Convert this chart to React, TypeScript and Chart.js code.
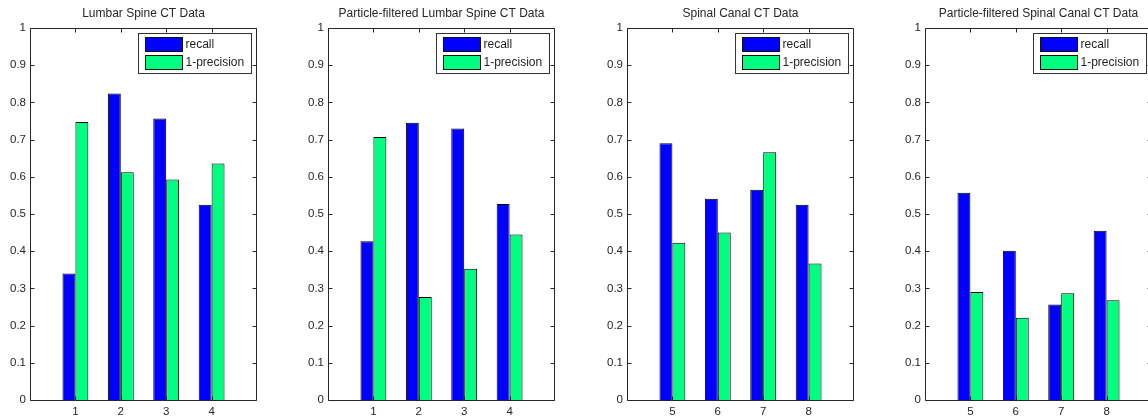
import React, { useEffect, useRef } from 'react';
import { Chart, registerables } from 'chart.js';

Chart.register(...registerables);

// ---- data ----
const lumbarCategories = ['1', '2', '3', '4'];
const spinalCategories = ['5', '6', '7', '8'];
const seriesNames = ['recall', '1-precision'];

const lumbarRecall = [0.340, 0.824, 0.757, 0.525];
const lumbarOneMinusPrecision = [0.747, 0.612, 0.593, 0.636];

const pfLumbarRecall = [0.427, 0.745, 0.730, 0.527];
const pfLumbarOneMinusPrecision = [0.707, 0.277, 0.353, 0.445];

const spinalRecall = [0.690, 0.541, 0.565, 0.525];
const spinalOneMinusPrecision = [0.423, 0.450, 0.666, 0.367];

const pfSpinalRecall = [0.557, 0.401, 0.257, 0.455];
const pfSpinalOneMinusPrecision = [0.290, 0.221, 0.287, 0.268];

const yTickValues = [0, 0.1, 0.2, 0.3, 0.4, 0.5, 0.6, 0.7, 0.8, 0.9, 1];
const yTickLabels = ['0', '0.1', '0.2', '0.3', '0.4', '0.5', '0.6', '0.7', '0.8', '0.9', '1'];

const panelTitles = [
  'Lumbar Spine CT Data',
  'Particle-filtered Lumbar Spine CT Data',
  'Spinal Canal CT Data',
  'Particle-filtered Spinal Canal CT Data',
];

// ---- style ----
const FONT = '"Liberation Sans", Arial, Helvetica, sans-serif';
const TEXT = '#262626';
const AXIS = '#262626';
const BLUE = '#0000ff';
const GREEN = '#00ff80';
const CANVAS_W = 299;
const CANVAS_H = 419;

const matlabPlugin = {
  id: 'matlabAxes',
  afterDraw(chart: any) {
    const { ctx, chartArea: a, scales } = chart;
    const title = chart.options.plugins.matlabAxes.title as string;
    const names = chart.data.datasets.map((d: any) => d.label);
    const colors = chart.data.datasets.map((d: any) => d.backgroundColor);
    const nLabels = chart.data.labels.length;
    ctx.save();
    const L = Math.round(a.left) + 0.5;
    const R = Math.round(a.right) - 0.5;
    const T = Math.round(a.top) + 0.5;
    const B = Math.round(a.bottom) + 0.5;
    ctx.strokeStyle = AXIS;
    ctx.lineWidth = 1;
    ctx.beginPath();
    ctx.rect(L, T, R - L, B - T);
    for (const v of yTickValues) {
      const y = Math.round(scales.y.getPixelForValue(v)) + 0.5;
      ctx.moveTo(L, y); ctx.lineTo(L + 4, y);
      ctx.moveTo(R, y); ctx.lineTo(R - 4, y);
    }
    for (let i = 1; i < nLabels - 1; i++) {
      const x = Math.round(scales.x.getPixelForValue(i)) + 0.5;
      ctx.moveTo(x, B); ctx.lineTo(x, B - 4);
      ctx.moveTo(x, T); ctx.lineTo(x, T + 4);
    }
    ctx.stroke();

    // title
    ctx.fillStyle = TEXT;
    ctx.font = `12px ${FONT}`;
    ctx.textAlign = 'center';
    ctx.textBaseline = 'middle';
    ctx.fillText(title, (a.left + a.right) / 2, 14);

    // legend
    ctx.font = `12px ${FONT}`;
    const maxText = Math.max(...names.map((n: string) => ctx.measureText(n).width));
    const boxW = Math.max(112, Math.round(48 + maxText + 6));
    const boxH = 40;
    const bx = Math.round(a.right) - 6 - boxW + 0.5;
    const by = Math.round(a.top) + 5 + 0.5;
    ctx.fillStyle = '#ffffff';
    ctx.fillRect(bx, by, boxW, boxH);
    ctx.strokeStyle = '#333333';
    ctx.strokeRect(bx, by, boxW, boxH);
    names.forEach((n: string, i: number) => {
      const sy = by + 4 + i * 18;
      ctx.fillStyle = colors[i];
      ctx.fillRect(bx + 7, sy, 37, 14);
      ctx.strokeStyle = '#111111';
      ctx.strokeRect(bx + 7, sy, 37, 14);
      ctx.fillStyle = TEXT;
      ctx.textAlign = 'left';
      ctx.textBaseline = 'middle';
      ctx.fillText(n, bx + 47, sy + 7.5);
    });
    ctx.restore();
  },
};

type PanelProps = {
  title: string;
  categories: string[];
  recall: number[];
  precision: number[];
  left: number;
};

function Panel({ title, categories, recall, precision, left }: PanelProps) {
  const ref = useRef<HTMLCanvasElement | null>(null);
  useEffect(() => {
    if (!ref.current) return;
    const lo = String(Number(categories[0]) - 1);
    const hi = String(Number(categories[categories.length - 1]) + 1);
    const labels = [lo, ...categories, hi];
    const pad = (arr: number[]) => [null, ...arr, null];
    const chart = new Chart(ref.current, {
      type: 'bar',
      data: {
        labels,
        datasets: [
          {
            label: seriesNames[0],
            data: pad(recall),
            backgroundColor: BLUE,
            borderColor: '#000000',
            borderWidth: 1,
            categoryPercentage: 0.57,
            barPercentage: 1,
          },
          {
            label: seriesNames[1],
            data: pad(precision),
            backgroundColor: GREEN,
            borderColor: '#000000',
            borderWidth: 1,
            categoryPercentage: 0.57,
            barPercentage: 1,
          },
        ],
      },
      options: {
        responsive: false,
        maintainAspectRatio: false,
        animation: false,
        devicePixelRatio: 1,
        layout: { padding: { top: 28, right: CANVAS_W - 257, bottom: 0, left: 0 } },
        plugins: {
          legend: { display: false },
          title: { display: false },
          tooltip: { enabled: false },
          matlabAxes: { title },
        } as any,
        scales: {
          x: {
            type: 'category',
            offset: false,
            grid: { display: false, drawTicks: false, tickLength: 0 },
            border: { display: false },
            ticks: {
              autoSkip: false,
              maxRotation: 0,
              minRotation: 0,
              padding: 5,
              color: TEXT,
              font: { family: FONT, size: 11.5 },
              callback: (_v: any, i: number) => (i === 0 || i === labels.length - 1 ? '' : labels[i]),
            },
            afterFit: (s: any) => { s.height = 19; },
          },
          y: {
            min: 0,
            max: 1,
            grid: { display: false, drawTicks: false, tickLength: 0 },
            border: { display: false },
            afterBuildTicks: (s: any) => { s.ticks = yTickValues.map((v) => ({ value: v })); },
            ticks: {
              padding: 4,
              color: TEXT,
              font: { family: FONT, size: 11.5 },
              callback: (_v: any, i: number) => yTickLabels[i],
            },
            afterFit: (s: any) => { s.width = 30; },
          },
        },
      } as any,
      plugins: [matlabPlugin],
    });
    return () => chart.destroy();
  }, [title, categories, recall, precision]);
  return (
    <canvas
      ref={ref}
      width={CANVAS_W}
      height={CANVAS_H}
      style={{ position: 'absolute', left, top: 0, width: CANVAS_W, height: CANVAS_H }}
    />
  );
}

export default function App() {
  return (
    <div
      style={{
        position: 'fixed',
        left: 0,
        top: 0,
        width: 1148,
        height: 419,
        overflow: 'hidden',
        background: '#ffffff',
      }}
    >
      <Panel title={panelTitles[0]} categories={lumbarCategories} recall={lumbarRecall} precision={lumbarOneMinusPrecision} left={0} />
      <Panel title={panelTitles[1]} categories={lumbarCategories} recall={pfLumbarRecall} precision={pfLumbarOneMinusPrecision} left={298} />
      <Panel title={panelTitles[2]} categories={spinalCategories} recall={spinalRecall} precision={spinalOneMinusPrecision} left={597} />
      <Panel title={panelTitles[3]} categories={spinalCategories} recall={pfSpinalRecall} precision={pfSpinalOneMinusPrecision} left={895} />
    </div>
  );
}
